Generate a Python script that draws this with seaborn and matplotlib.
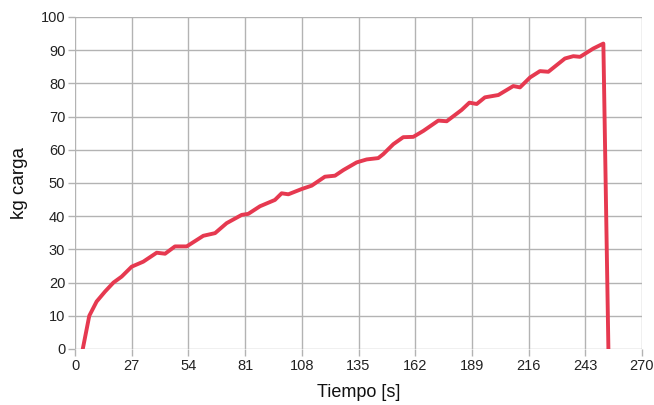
import matplotlib
matplotlib.use("Agg")
import matplotlib.pyplot as plt
import seaborn as sns
import pandas as pd

tiempo = [3.7, 6.8, 10.3, 14.3, 18.3, 22.2, 27.0, 32.5, 38.9, 42.9, 47.6, 53.2,
          61.1, 66.7, 72.2, 79.4, 82.5, 88.1, 95.2, 98.4, 101.6, 108.0, 112.7,
          119.0, 123.8, 127.8, 134.1, 138.9, 144.4, 146.8, 151.6, 156.3, 161.1,
          165.9, 173.0, 177.0, 184.1, 187.8, 191.3, 195.2, 201.6, 208.7, 211.9,
          216.7, 221.4, 225.4, 233.3, 237.3, 240.5, 246.8, 251.6, 254.0]
carga = [0, 10, 14.3, 17.3, 20, 21.8, 24.8, 26.3, 29.0, 28.7, 30.9, 30.9,
         34.1, 34.9, 37.9, 40.4, 40.7, 43.0, 44.9, 46.9, 46.6, 48.2, 49.2,
         51.9, 52.2, 53.9, 56.2, 57.1, 57.5, 58.7, 61.7, 63.8, 63.9,
         65.7, 68.8, 68.6, 72.0, 74.2, 73.8, 75.8, 76.5, 79.2, 78.8,
         81.8, 83.7, 83.5, 87.5, 88.2, 88.0, 90.5, 92.0, 0]
xticks = list(range(0, 271, 27))
yticks = list(range(0, 101, 10))

df = pd.DataFrame({"Tiempo [s]": tiempo, "kg carga": carga})

sns.set_theme(style="whitegrid")
plt.rcParams['font.family'] = ['Liberation Sans Narrow', 'Liberation Sans', 'DejaVu Sans']

fig = plt.figure(figsize=(6.54, 4.05), dpi=100)
ax = fig.add_axes([75/654, 1-349/405, (642-75)/654, (349-17)/405])

sns.lineplot(data=df, x="Tiempo [s]", y="kg carga", ax=ax, color="#e63950",
             linewidth=2.8, sort=False, solid_joinstyle="round")

ax.set_xlim(0, 270)
ax.set_ylim(0, 100)
ax.set_xticks(xticks)
ax.set_yticks(yticks)
ax.grid(True, color="#b3b3b3", linewidth=1.0)
for s in ax.spines.values():
    s.set_visible(False)
ax.tick_params(axis="both", bottom=True, left=True, length=5, width=1.0,
               color="#b3b3b3", labelsize=10.5, labelcolor="#222222", pad=2)
ax.set_xlabel("Tiempo [s]", fontsize=13, family=['Liberation Sans', 'DejaVu Sans'],
              labelpad=8, color="#111111")
ax.set_ylabel("kg carga", fontsize=13.5, family=['Liberation Sans', 'DejaVu Sans'],
              labelpad=9, color="#111111")
ax.set_facecolor("white")

fig.savefig("out.png", dpi=100, facecolor="white")
